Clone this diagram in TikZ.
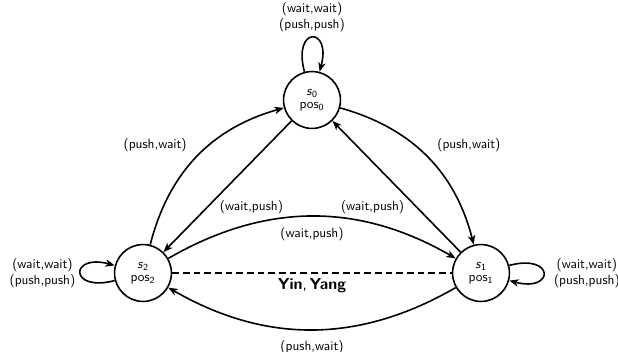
\documentclass[tikz,border=0pt]{standalone}
\usetikzlibrary{arrows.meta}
\begin{document}
\begin{tikzpicture}[x=0.75pt,y=-0.75pt,font=\sffamily,
  stnode/.style={circle,draw,line width=1.2pt,minimum size=1.5cm,inner sep=0pt,align=center},
  trans/.style={-{Stealth[length=7pt,width=5.5pt,inset=2pt]},line width=1.2pt},
  dashline/.style={line width=1.2pt,dash pattern=on 5pt off 3pt},
  lbl/.style={inner sep=3.33pt,align=center}]
\useasboundingbox (0,0) rectangle (618,352);
\node[stnode] (s0) at (312,100) {\textit{s}$_{\mathsf{0}}$\\[-2pt]pos$_{\mathsf{0}}$};
\node[stnode] (s2) at (143,273) {\textit{s}$_{\mathsf{2}}$\\[-2pt]pos$_{\mathsf{2}}$};
\node[stnode] (s1) at (481,273) {\textit{s}$_{\mathsf{1}}$\\[-2pt]pos$_{\mathsf{1}}$};
% loops
\draw[trans] (s0) to[loop above] node[lbl,anchor=south] {(wait,wait)\\(push,push)} (s0);
\draw[trans] (s2) to[loop left] node[lbl,anchor=east] {(wait,wait)\\(push,push)} (s2);
\draw[trans] (s1) to[loop right] node[lbl,anchor=west,xshift=4pt] {(wait,wait)\\(push,push)} (s1);
% curved
\draw[trans] (s0) to[bend left=30] node[lbl,pos=0.5,anchor=south west,xshift=3.8pt] {(push,wait)} (s1);
\draw[trans] (s2) to[bend left=30] node[lbl,pos=0.5,anchor=south east,xshift=-3.8pt] {(push,wait)} (s0);
\draw[trans] (s2) to[bend left=30] node[lbl,pos=0.5,anchor=north,yshift=-4.2pt] {(wait,push)} (s1);
\draw[trans] (s1) to[bend left=30] node[lbl,pos=0.5,anchor=north,yshift=-4.5pt] {(push,wait)} (s2);
% straight
\draw[trans] (s0) -- node[lbl,pos=0.6,anchor=north west,yshift=3.6pt] {(wait,push)} (s2);
\draw[trans] (s1) -- node[lbl,pos=0.4,anchor=north east,yshift=3.6pt] {(wait,push)} (s0);
% dashed
\draw[dashline] (s2) -- node[lbl,anchor=north] {\large\textbf{Yin},\,\textbf{Yang}} (s1);
\end{tikzpicture}
\end{document}
